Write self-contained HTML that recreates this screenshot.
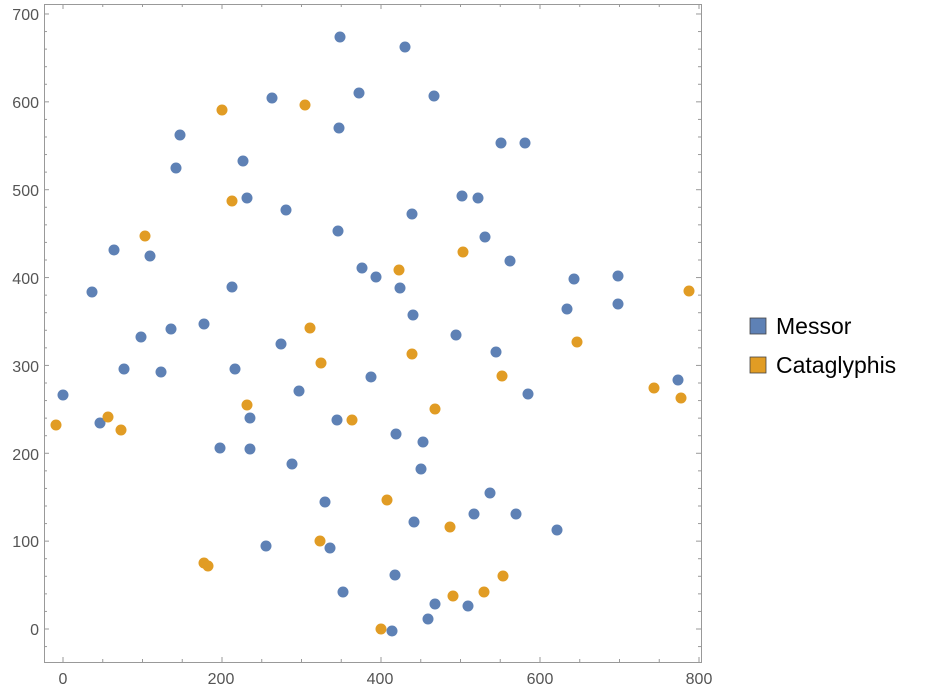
<!DOCTYPE html>
<html><head><style>body{margin:0;background:#fff}svg{display:block}</style></head><body>
<svg id="s" width="940" height="696" xmlns="http://www.w3.org/2000/svg" font-family="Liberation Sans, sans-serif">
<rect x="44.5" y="4.5" width="657" height="658" fill="none" stroke="#999" stroke-width="1"/>
<g id="ticks" stroke="#999" stroke-width="1"></g>
<g fill="#555" font-size="16" text-anchor="middle">
<text x="63" y="684">0</text><text x="221" y="684">200</text><text x="380" y="684">400</text><text x="540" y="684">600</text><text x="699" y="684">800</text>
</g>
<g fill="#555" font-size="16" text-anchor="end">
<text x="39" y="20">700</text><text x="39" y="108">600</text><text x="39" y="196">500</text><text x="39" y="284">400</text><text x="39" y="372">300</text><text x="39" y="460">200</text><text x="39" y="547">100</text><text x="39" y="635">0</text>
</g>
<g fill="#5e81b5">
<circle cx="340" cy="37" r="5.5"/><circle cx="405" cy="47" r="5.5"/><circle cx="272" cy="98" r="5.5"/><circle cx="359" cy="93" r="5.5"/><circle cx="434" cy="96" r="5.5"/><circle cx="180" cy="135" r="5.5"/><circle cx="339" cy="128" r="5.5"/><circle cx="501" cy="143" r="5.5"/><circle cx="525" cy="143" r="5.5"/><circle cx="176" cy="168" r="5.5"/><circle cx="243" cy="161" r="5.5"/><circle cx="247" cy="198" r="5.5"/><circle cx="286" cy="210" r="5.5"/><circle cx="462" cy="196" r="5.5"/><circle cx="478" cy="198" r="5.5"/><circle cx="412" cy="214" r="5.5"/><circle cx="338" cy="231" r="5.5"/><circle cx="485" cy="237" r="5.5"/><circle cx="114" cy="250" r="5.5"/><circle cx="150" cy="256" r="5.5"/><circle cx="510" cy="261" r="5.5"/><circle cx="92" cy="292" r="5.5"/><circle cx="362" cy="268" r="5.5"/><circle cx="376" cy="277" r="5.5"/><circle cx="400" cy="288" r="5.5"/><circle cx="574" cy="279" r="5.5"/><circle cx="618" cy="276" r="5.5"/><circle cx="232" cy="287" r="5.5"/><circle cx="413" cy="315" r="5.5"/><circle cx="567" cy="309" r="5.5"/><circle cx="618" cy="304" r="5.5"/><circle cx="141" cy="337" r="5.5"/><circle cx="171" cy="329" r="5.5"/><circle cx="204" cy="324" r="5.5"/><circle cx="456" cy="335" r="5.5"/><circle cx="281" cy="344" r="5.5"/><circle cx="496" cy="352" r="5.5"/><circle cx="124" cy="369" r="5.5"/><circle cx="161" cy="372" r="5.5"/><circle cx="235" cy="369" r="5.5"/><circle cx="371" cy="377" r="5.5"/><circle cx="63" cy="395" r="5.5"/><circle cx="678" cy="380" r="5.5"/><circle cx="528" cy="394" r="5.5"/><circle cx="299" cy="391" r="5.5"/><circle cx="100" cy="423" r="5.5"/><circle cx="250" cy="418" r="5.5"/><circle cx="337" cy="420" r="5.5"/><circle cx="396" cy="434" r="5.5"/><circle cx="220" cy="448" r="5.5"/><circle cx="250" cy="449" r="5.5"/><circle cx="423" cy="442" r="5.5"/><circle cx="292" cy="464" r="5.5"/><circle cx="421" cy="469" r="5.5"/><circle cx="490" cy="493" r="5.5"/><circle cx="325" cy="502" r="5.5"/><circle cx="474" cy="514" r="5.5"/><circle cx="516" cy="514" r="5.5"/><circle cx="557" cy="530" r="5.5"/><circle cx="414" cy="522" r="5.5"/><circle cx="266" cy="546" r="5.5"/><circle cx="330" cy="548" r="5.5"/><circle cx="395" cy="575" r="5.5"/><circle cx="343" cy="592" r="5.5"/><circle cx="435" cy="604" r="5.5"/><circle cx="468" cy="606" r="5.5"/><circle cx="428" cy="619" r="5.5"/><circle cx="392" cy="631" r="5.5"/>
</g>
<g fill="#e19c24">
<circle cx="222" cy="110" r="5.5"/><circle cx="305" cy="105" r="5.5"/><circle cx="232" cy="201" r="5.5"/><circle cx="145" cy="236" r="5.5"/><circle cx="463" cy="252" r="5.5"/><circle cx="399" cy="270" r="5.5"/><circle cx="689" cy="291" r="5.5"/><circle cx="310" cy="328" r="5.5"/><circle cx="577" cy="342" r="5.5"/><circle cx="412" cy="354" r="5.5"/><circle cx="321" cy="363" r="5.5"/><circle cx="502" cy="376" r="5.5"/><circle cx="654" cy="388" r="5.5"/><circle cx="681" cy="398" r="5.5"/><circle cx="56" cy="425" r="5.5"/><circle cx="108" cy="417" r="5.5"/><circle cx="121" cy="430" r="5.5"/><circle cx="247" cy="405" r="5.5"/><circle cx="352" cy="420" r="5.5"/><circle cx="435" cy="409" r="5.5"/><circle cx="387" cy="500" r="5.5"/><circle cx="450" cy="527" r="5.5"/><circle cx="320" cy="541" r="5.5"/><circle cx="204" cy="563" r="5.5"/><circle cx="208" cy="566" r="5.5"/><circle cx="503" cy="576" r="5.5"/><circle cx="484" cy="592" r="5.5"/><circle cx="453" cy="596" r="5.5"/><circle cx="381" cy="629" r="5.5"/>
</g>
<rect x="750" y="318" width="16" height="16" fill="#5e81b5" stroke="#444" stroke-width="0.8"/>
<rect x="750" y="357" width="16" height="16" fill="#e19c24" stroke="#444" stroke-width="0.8"/>
<text x="776" y="334" font-size="23" fill="#000">Messor</text>
<text x="776" y="373" font-size="23" fill="#000">Cataglyphis</text>
</svg>
<script>
var g=document.getElementById('ticks'),h='';
function L(a,b,c,d){h+='<line x1="'+a+'" y1="'+b+'" x2="'+c+'" y2="'+d+'"/>';}
for(var v=-50;v<=800;v+=50){var x=63+0.795*v;if(x<45||x>701)continue;var len=v%200==0?5:3;L(x,662,x,662-len);L(x,4,x,4+len);}
for(var v=-40;v<=700;v+=20){var y=629-0.8786*v;if(y<5||y>662)continue;var len=v%100==0?5:3;L(44,y,44+len,y);L(701,y,701-len,y);}
g.innerHTML=h;
</script>
</body></html>
